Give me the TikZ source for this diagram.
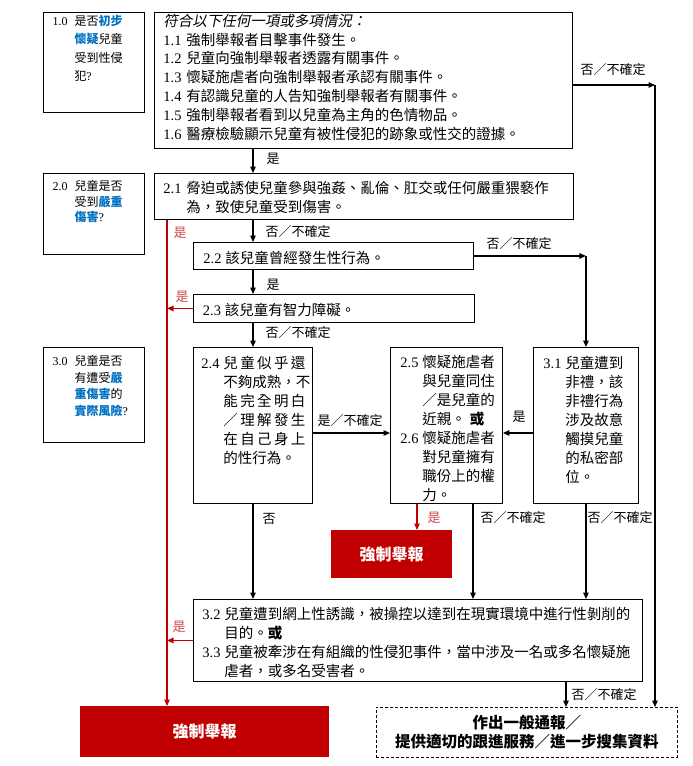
\documentclass[tikz,border=0pt]{standalone}
\usepackage{fontspec}
\setmainfont{Noto Sans CJK TC}
\newfontfamily\numfont{Liberation Serif}
\newfontfamily\itfont{Noto Sans CJK TC}[FakeSlant=0.2]
\usetikzlibrary{arrows.meta}

\definecolor{alertred}{RGB}{192,0,0}
\definecolor{labred}{RGB}{205,70,70}
\definecolor{keyblue}{RGB}{0,112,192}

\newcommand{\itemno}[2][22pt]{\makebox[#1][l]{\numfont #2}}
\newcommand{\hang}[1][22pt]{\hspace*{#1}}
\newcommand{\key}[1]{{\bfseries\color{keyblue}#1}}
% width, height, left pad, top pad, text
\newcommand{\boxtext}[5]{\parbox[c][#2][t]{#1}{\vspace*{#4}\raggedright\leftskip=#3\relax #5}}

\tikzset{
  box/.style={draw, line width=0.9pt, anchor=north west, inner sep=0pt},
  sidebox/.style={box, line width=1pt},
  mainbox/.style={box, font=\fontsize{14.5}{19}\selectfont},
  alert/.style={fill=alertred, anchor=north west, inner sep=0pt, text=white,
    font=\fontsize{16}{16}\selectfont\bfseries},
  general/.style={draw, dash pattern=on 3pt off 2pt, line width=0.9pt,
    anchor=north west, inner sep=0pt, align=center,
    font=\fontsize{15.5}{19}\selectfont\bfseries},
  arr/.style={-{Triangle[length=6.5pt,width=5.5pt]}, line width=1.3pt},
  redarr/.style={arr, draw=alertred},
  lab/.style={font=\fontsize{13}{13}\selectfont, inner sep=0pt},
  redlab/.style={lab, text=labred},
}

\begin{document}
\begin{tikzpicture}[x=1pt, y=-1pt]
  \useasboundingbox (0,0) rectangle (693,766);

  % ---- 左欄: 1.0 / 2.0 / 3.0 ----
  \node[sidebox, font=\fontsize{12}{18.5}\selectfont] (b10) at (43,12)
    {\boxtext{101pt}{100pt}{9pt}{2.5pt}{\itemno{1.0}是否\key{初步}\\
      \hang\key{懷疑}兒童\\ \hang 受到性侵\\ \hang 犯{\numfont ?}}};
  \node[sidebox, font=\fontsize{12}{15.5}\selectfont] (b20) at (43,173)
    {\boxtext{101pt}{81pt}{9pt}{7pt}{\itemno{2.0}兒童是否\\
      \hang 受到\key{嚴重}\\ \hang\key{傷害}{\numfont ?}}};
  \node[sidebox, font=\fontsize{12}{16.5}\selectfont] (b30) at (43,347)
    {\boxtext{101pt}{95pt}{9pt}{8pt}{\itemno{3.0}兒童是否\\
      \hang 有遭受\key{嚴}\\ \hang\key{重傷害}的\\ \hang\key{實際風險}{\numfont ?}}};

  % ---- 1.1 - 1.6 ----
  \node[mainbox, font=\fontsize{14.5}{18.8}\selectfont] (b1x) at (154,12)
    {\boxtext{418pt}{136pt}{9pt}{1.5pt}{{\itfont 符合以下任何一項或多項情況：}\\
      \itemno[23pt]{1.1}強制舉報者目擊事件發生。\\
      \itemno[23pt]{1.2}兒童向強制舉報者透露有關事件。\\
      \itemno[23pt]{1.3}懷疑施虐者向強制舉報者承認有關事件。\\
      \itemno[23pt]{1.4}有認識兒童的人告知強制舉報者有關事件。\\
      \itemno[23pt]{1.5}強制舉報者看到以兒童為主角的色情物品。\\
      \itemno[23pt]{1.6}醫療檢驗顯示兒童有被性侵犯的跡象或性交的證據。}};

  % ---- 2.1 - 2.3 ----
  \node[mainbox] (b21) at (154,173)
    {\boxtext{419pt}{46pt}{9pt}{8.2pt}{\itemno[23pt]{2.1}脅迫或誘使兒童參與強姦、亂倫、肛交或任何嚴重猥褻作\\
      \hang[23pt]為，致使兒童受到傷害。}};
  \node[mainbox] (b22) at (193,242)
    {\boxtext{280pt}{27pt}{10pt}{8.8pt}{\itemno{2.2}該兒童曾經發生性行為。}};
  \node[mainbox] (b23) at (193,294)
    {\boxtext{281pt}{28pt}{9.5pt}{8.5pt}{\itemno{2.3}該兒童有智力障礙。}};

  % ---- 2.4 / 2.5-2.6 / 3.1 ----
  \node[mainbox] (b24) at (193,347)
    {\boxtext{119pt}{156pt}{8pt}{8.3pt}{\itemno{2.4}\makebox[82pt][s]{兒\hfill 童\hfill 似\hfill 乎\hfill 還}\\
      \hang 不夠成熟，不\\
      \hang\makebox[82pt][s]{能\hfill 完\hfill 全\hfill 明\hfill 白}\\
      \hang\makebox[82pt][s]{／\hfill 理\hfill 解\hfill 發\hfill 生}\\
      \hang\makebox[82pt][s]{在\hfill 自\hfill 己\hfill 身\hfill 上}\\
      \hang 的性行為。}};
  \node[mainbox] (b25) at (390,347)
    {\boxtext{112pt}{156pt}{10pt}{8.3pt}{\itemno{2.5}懷疑施虐者\\
      \hang 與兒童同住\\ \hang ／是兒童的\\ \hang 近親。\hspace{4pt}\textbf{或}\\
      \itemno{2.6}懷疑施虐者\\ \hang 對兒童擁有\\ \hang 職份上的權\\ \hang 力。}};
  \node[mainbox] (b31) at (533,347)
    {\boxtext{105pt}{156pt}{10pt}{8.3pt}{\itemno{3.1}兒童遭到\\
      \hang 非禮，該\\ \hang 非禮行為\\ \hang 涉及故意\\ \hang 觸摸兒童\\
      \hang 的私密部\\ \hang 位。}};

  % ---- 3.2 / 3.3 ----
  \node[mainbox] (b32) at (193,599)
    {\boxtext{449pt}{82pt}{9pt}{8.2pt}{\itemno{3.2}兒童遭到網上性誘識，被操控以達到在現實環境中進行性剝削的\\
      \hang 目的。\textbf{或}\\
      \itemno{3.3}兒童被牽涉在有組織的性侵犯事件，當中涉及一名或多名懷疑施\\
      \hang 虐者，或多名受害者。}};

  % ---- 結果 ----
  \node[alert, minimum width=121pt, minimum height=48pt] (rep1) at (331,530) {強制舉報};
  \node[alert, minimum width=249pt, minimum height=51pt] (rep2) at (80,706) {強制舉報};
  \node[general, minimum width=301pt, minimum height=50pt] (gen) at (376,707)
    {作出一般通報／\\ 提供適切的跟進服務／進一步搜集資料};

  % ---- 連線 ----
  \coordinate (spine) at (253,0);
  \coordinate (redx) at (167,0);
  \coordinate (c1) at (655,85);
  \coordinate (row4) at (0,433);
  \coordinate (x25r) at (417,0);
  \coordinate (x25b) at (473,0);
  \coordinate (x32b) at (566,0);

  \draw[arr] (b1x.east |- c1) -- (c1);
  \draw[arr] (c1) -- (c1 |- gen.north);
  \draw[arr] (b1x.south -| spine) -- (b21.north -| spine);
  \draw[arr] (b21.south -| spine) -- (b22.north -| spine);
  \draw[arr] (b22.east) -- (b22.east -| b31.north);
  \draw[arr] (b22.east -| b31.north) -- (b31.north);
  \draw[arr] (b22.south -| spine) -- (b23.north -| spine);
  \draw[arr] (b23.south -| spine) -- (b24.north -| spine);
  \draw[arr] (b24.east |- row4) -- (b25.west |- row4);
  \draw[arr] (b31.west |- row4) -- (b25.east |- row4);
  \draw[arr] (b24.south -| spine) -- (b32.north -| spine);
  \draw[arr] (b25.south -| x25b) -- (b32.north -| x25b);
  \draw[arr] (b31.south) -- (b31.south |- b32.north);
  \draw[arr] (b32.south -| x32b) -- (gen.north -| x32b);

  \draw[redarr] (b21.south -| redx) -- (rep2.north -| redx);
  \draw[redarr] (b23.west) -- (b23.west -| redx);
  \draw[redarr] (b32.west) -- (b32.west -| redx);
  \draw[redarr] (b25.south -| x25r) -- (rep1.north -| x25r);

  % ---- ラベル ----
  \node[lab] (l1) at (613,70) {否／不確定};
  \node[lab] (l2) at (273,159) {是};
  \node[lab] (l3) at (298,232) {否／不確定};
  \node[lab] (l4) at (519,244) {否／不確定};
  \node[lab] (l5) at (273,285) {是};
  \node[lab] (l6) at (298,333) {否／不確定};
  \node[lab] (l7) at (350,421) {是／不確定};
  \node[lab] (l8) at (519,417) {是};
  \node[lab] (l9) at (269,519) {否};
  \node[lab] (l10) at (513,518) {否／不確定};
  \node[lab] (l11) at (620,518) {否／不確定};
  \node[lab] (l12) at (604,695) {否／不確定};
  \node[redlab] (l13) at (180,233) {是};
  \node[redlab] (l14) at (182,297) {是};
  \node[redlab] (l15) at (434,518) {是};
  \node[redlab] (l16) at (179,627) {是};
\end{tikzpicture}
\end{document}
